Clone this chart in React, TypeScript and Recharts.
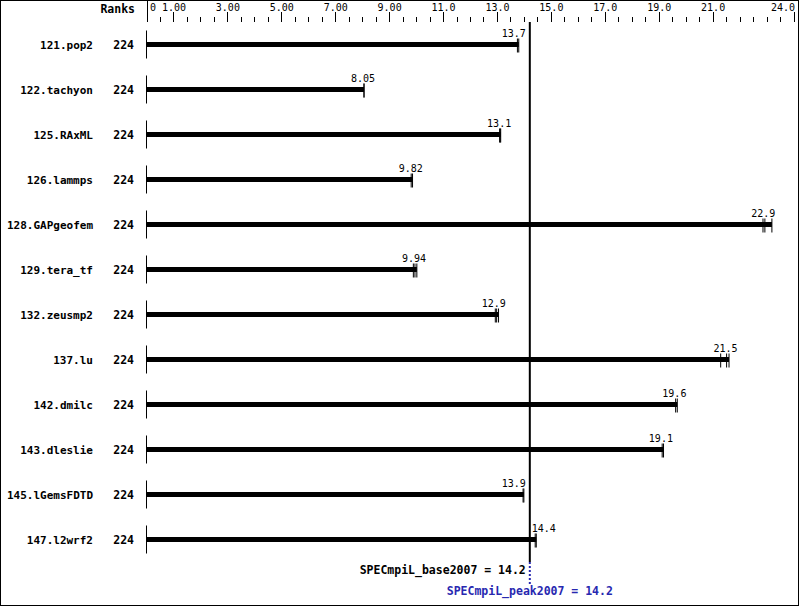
import { BarChart, Bar, XAxis, YAxis, ReferenceLine } from "recharts";

const benchmarks = [
  "121.pop2",
  "122.tachyon",
  "125.RAxML",
  "126.lammps",
  "128.GAPgeofem",
  "129.tera_tf",
  "132.zeusmp2",
  "137.lu",
  "142.dmilc",
  "143.dleslie",
  "145.lGemsFDTD",
  "147.l2wrf2",
];
const ranks = [224, 224, 224, 224, 224, 224, 224, 224, 224, 224, 224, 224];
const scores = [13.7, 8.05, 13.1, 9.82, 22.9, 9.94, 12.9, 21.5, 19.6, 19.1, 13.9, 14.4];
// individual run results (the thin marks at the end of each bar)
const runs = [
  [13.74, 13.79],
  [8.05, 8.05],
  [13.08, 13.1, 13.12],
  [9.8, 9.85],
  [22.85, 22.92, 23.18],
  [9.88, 9.94, 10.01],
  [12.92, 12.97, 13.04],
  [21.28, 21.5, 21.59],
  [19.61, 19.67],
  [19.11, 19.16],
  [13.95, 13.98],
  [14.4, 14.44],
];

const majorTicks = [0, 1, 3, 5, 7, 9, 11, 13, 15, 17, 19, 21, 24];
const majorLabels = ["0", "1.00", "3.00", "5.00", "7.00", "9.00", "11.0", "13.0", "15.0", "17.0", "19.0", "21.0", "24.0"];
const minorTicks = [
  0.5, 1.5, 2, 2.5, 3.5, 4, 4.5, 5.5, 6, 6.5, 7.5, 8, 8.5, 9.5, 10, 10.5, 11.5, 12, 12.5,
  13.5, 14, 14.5, 15.5, 16, 16.5, 17.5, 18, 18.5, 19.5, 20, 20.5, 21.5, 22, 22.5, 23, 23.5,
];

const baseScore = 14.2;
const peakScore = 14.2;

const data = benchmarks.map((name, i) => ({
  name,
  rank: ranks[i],
  score: scores[i],
  runs: runs[i],
  bar: Math.max(...runs[i]),
}));

const allTicks = [...majorTicks, ...minorTicks].sort((a, b) => a - b);
const mono = "'DejaVu Sans Mono', monospace";

const TopTick = ({ x, y, payload }: any) => {
  const v = payload.value;
  const mi = majorTicks.indexOf(v);
  if (v === 0) {
    return (
      <g>
        <line x1={x} x2={x} y1={0} y2={y} stroke="#000" shapeRendering="crispEdges" />
        <text x={x + 3} y={y - 11} fontFamily={mono} fontSize={10} fill="#000">
          {majorLabels[mi]}
        </text>
      </g>
    );
  }
  const major = mi >= 0;
  return (
    <g>
      <line x1={x} x2={x} y1={y - (major ? 10 : 5)} y2={y} stroke="#000" shapeRendering="crispEdges" />
      {major && (
        <text
          x={v === 24 ? x + 1 : x}
          y={y - 11}
          textAnchor={v === 24 ? "end" : "middle"}
          fontFamily={mono}
          fontSize={10}
          fill="#000"
        >
          {majorLabels[mi]}
        </text>
      )}
    </g>
  );
};

const NameTick = ({ x, y, payload, index }: any) => (
  <g>
    <text x={x - 54} y={y} dy={4} textAnchor="end" fontFamily={mono} fontWeight="bold" fontSize={11} fill="#000">
      {payload.value}
    </text>
    <text x={x - 13} y={y} dy={4} textAnchor="end" fontFamily={mono} fontWeight="bold" fontSize={11.5} fill="#000">
      {ranks[index]}
    </text>
  </g>
);

const RunBar = (props: any) => {
  const { x, y, width, height, payload } = props;
  const cy = y + height / 2;
  const per = width / payload.bar;
  // keep the value label clear of the metric line
  const lineX = x + baseScore * per;
  let lx = x + payload.score * per - 1;
  if (Math.abs(lx - lineX) < 16) lx = payload.score < baseScore ? lineX - 16 : lineX + 14;
  return (
    <g>
      <rect x={x} y={y} width={width} height={height} fill="#000" />
      <line x1={x - 0.5} x2={x - 0.5} y1={cy - 14} y2={cy + 14} stroke="#000" />
      {payload.runs.map((r: number, k: number) => (
        <line key={k} x1={x + r * per} x2={x + r * per} y1={cy - 6} y2={cy + 8} stroke="#000" />
      ))}
      <text x={lx} y={cy - 8} textAnchor="middle" fontFamily={mono} fontSize={10} fill="#000">
        {payload.score}
      </text>
    </g>
  );
};

const MetricLabel = ({ viewBox }: any) => {
  const { x, y, height } = viewBox;
  const bottom = y + height;
  return (
    <g>
      <line x1={x} x2={x} y1={bottom} y2={bottom + 22} stroke="#2828b0" strokeWidth={2} strokeDasharray="2 2" />
      <text x={x - 4} y={bottom + 12} textAnchor="end" fontFamily={mono} fontWeight="bold" fontSize={11.5} fill="#000">
        {`SPECmpiL_base2007 = ${baseScore}`}
      </text>
      <text x={x} y={bottom + 33} textAnchor="middle" fontFamily={mono} fontWeight="bold" fontSize={11.5} fill="#2828b0">
        {`SPECmpiL_peak2007 = ${peakScore}`}
      </text>
    </g>
  );
};

export default function App() {
  return (
    <div style={{ position: "relative", width: 799, height: 606, background: "#fff" }}>
      <style>{"body{margin:0}"}</style>
      <BarChart
        width={799}
        height={606}
        layout="vertical"
        data={data}
        margin={{ top: 0, right: 5, bottom: 44, left: 0 }}
      >
        <XAxis
          type="number"
          orientation="top"
          domain={[0, 24]}
          ticks={allTicks}
          interval={0}
          height={22}
          tickSize={0}
          tickMargin={0}
          axisLine={false}
          tickLine={false}
          tick={<TopTick />}
        />
        <YAxis
          type="category"
          dataKey="name"
          width={147}
          tickSize={0}
          tickMargin={0}
          axisLine={false}
          tickLine={false}
          interval={0}
          tick={<NameTick />}
        />
        <Bar dataKey="bar" barSize={5} shape={<RunBar />} isAnimationActive={false} />
        <ReferenceLine x={baseScore} stroke="#000" strokeWidth={2} label={<MetricLabel />} />
      </BarChart>
      <svg width={799} height={606} style={{ position: "absolute", left: 0, top: 0, pointerEvents: "none" }}>
        <rect x={0.5} y={0.5} width={798} height={605} fill="none" stroke="#000" />
        <text x={135} y={13} textAnchor="end" fontFamily={mono} fontWeight="bold" fontSize={11.5} fill="#000">
          Ranks
        </text>
      </svg>
    </div>
  );
}
